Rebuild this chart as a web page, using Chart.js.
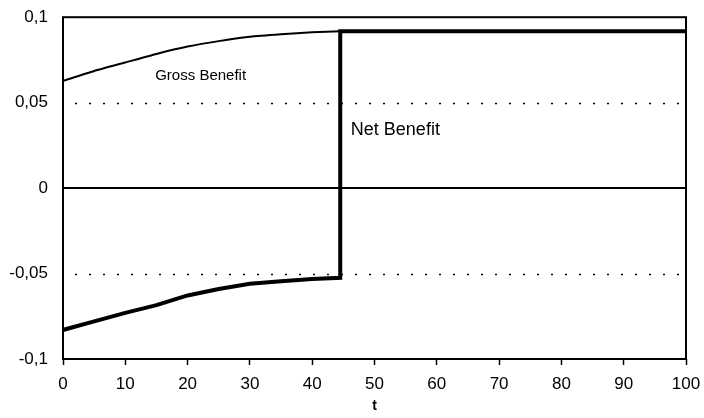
<!DOCTYPE html>
<html>
<head>
<meta charset="utf-8">
<script src="https://cdn.jsdelivr.net/npm/chart.js@4/dist/chart.umd.min.js"></script>
<style>
  html, body { margin: 0; padding: 0; background: #fff; }
  #wrap { width: 704px; height: 418px; }
</style>
</head>
<body>
<div id="wrap"><canvas id="benefitChart"></canvas></div>
<script>
// values
const tValues     = [0, 5, 10, 15, 20, 25, 30, 35, 40, 44.5, 44.5, 50, 60, 70, 80, 90, 100];
const grossValues = [0.0627, 0.0685, 0.0735, 0.0785, 0.0828, 0.086, 0.0885, 0.0900, 0.0912, 0.0918, 0.0918, 0.0918, 0.0918, 0.0918, 0.0918, 0.0918, 0.0918];
const netValues   = [-0.083, -0.078, -0.073, -0.0685, -0.0628, -0.059, -0.056, -0.0545, -0.0532, -0.0525, 0.0918, 0.0918, 0.0918, 0.0918, 0.0918, 0.0918, 0.0918];
const xTicks = [0, 10, 20, 30, 40, 50, 60, 70, 80, 90, 100];
const yTicks = [-0.1, -0.05, 0, 0.05, 0.1];
const dottedLines = [-0.05, 0.05];
const zeroLine = 0;
const seriesLabels = ['Gross Benefit', 'Net Benefit'];

const FONT = '"Liberation Sans", Arial, Helvetica, sans-serif';

// grid lines, frame and in-plot labels
const framePlugin = {
    id: 'frame',
    beforeDatasetsDraw(chart) {
        const { ctx, chartArea: a, scales: { y } } = chart;
        ctx.save();
        ctx.strokeStyle = '#000';
        ctx.lineWidth = 1.5;
        ctx.setLineDash([2, 12]);
        dottedLines.forEach(v => {
            const py = Math.round(y.getPixelForValue(v)) + 0.5;
            ctx.beginPath();
            ctx.moveTo(a.left + 12, py);
            ctx.lineTo(a.right, py);
            ctx.stroke();
        });
        ctx.setLineDash([]);
        ctx.lineWidth = 2;
        const pz = Math.round(y.getPixelForValue(zeroLine));
        ctx.beginPath();
        ctx.moveTo(a.left, pz);
        ctx.lineTo(a.right, pz);
        ctx.stroke();
        ctx.restore();
    },
    afterDatasetsDraw(chart, args, opts) {
        const { ctx, chartArea: a, scales: { x, y } } = chart;
        ctx.save();
        ctx.strokeStyle = '#000';
        ctx.lineWidth = 2;
        ctx.strokeRect(a.left, a.top, a.right - a.left, a.bottom - a.top);
        ctx.fillStyle = '#000';
        ctx.textBaseline = 'middle';
        opts.notes.forEach((n, i) => {
            ctx.font = n.size + 'px ' + FONT;
            ctx.fillText(seriesLabels[i], x.getPixelForValue(n.t), y.getPixelForValue(n.v));
        });
        ctx.restore();
    }
};

document.addEventListener('DOMContentLoaded', function() {
    const ctx = document.getElementById('benefitChart').getContext('2d');

    new Chart(ctx, {
        type: 'line',
        data: {
            datasets: [
                {
                    label: seriesLabels[0],
                    data: tValues.map((t, i) => ({ x: t, y: grossValues[i] })),
                    borderColor: '#000',
                    borderWidth: 2,
                    pointRadius: 0,
                    tension: 0.2
                },
                {
                    label: seriesLabels[1],
                    data: tValues.map((t, i) => ({ x: t, y: netValues[i] })),
                    borderColor: '#000',
                    borderWidth: 4,
                    pointRadius: 0,
                    tension: 0
                }
            ]
        },
        options: {
            responsive: true,
            maintainAspectRatio: false,
            animation: false,
            layout: { padding: { top: 14, right: 18, left: 0, bottom: 0 } },
            plugins: {
                legend: { display: false },
                tooltip: { enabled: false },
                frame: {
                    notes: [
                        { t: 14.8, v: 0.0656, size: 15 },
                        { t: 46.2, v: 0.0339, size: 18 }
                    ]
                }
            },
            scales: {
                x: {
                    type: 'linear',
                    min: 0,
                    max: 100,
                    afterBuildTicks: s => { s.ticks = xTicks.map(v => ({ value: v })); },
                    afterFit: s => { s.height = 59; s.paddingLeft = 0; s.paddingRight = 0; },
                    grid: { drawOnChartArea: false, drawTicks: true, tickLength: 6, tickWidth: 1.5, tickColor: '#000' },
                    border: { display: false },
                    ticks: { color: '#000', font: { family: FONT, size: 17 }, padding: 9, maxRotation: 0 },
                    title: { display: true, text: 't', color: '#000', font: { family: FONT, size: 14, weight: 'bold' }, padding: { top: 0, bottom: 3 } }
                },
                y: {
                    min: -0.1,
                    max: 0.1,
                    afterBuildTicks: s => { s.ticks = yTicks.map(v => ({ value: v })); },
                    afterFit: s => { s.width = 63; },
                    grid: { display: false },
                    border: { display: false },
                    ticks: {
                        color: '#000',
                        font: { family: FONT, size: 17 },
                        padding: 7,
                        callback: v => String(v).replace('.', ',')
                    }
                }
            }
        },
        plugins: [framePlugin]
    });
});
</script>
</body>
</html>
